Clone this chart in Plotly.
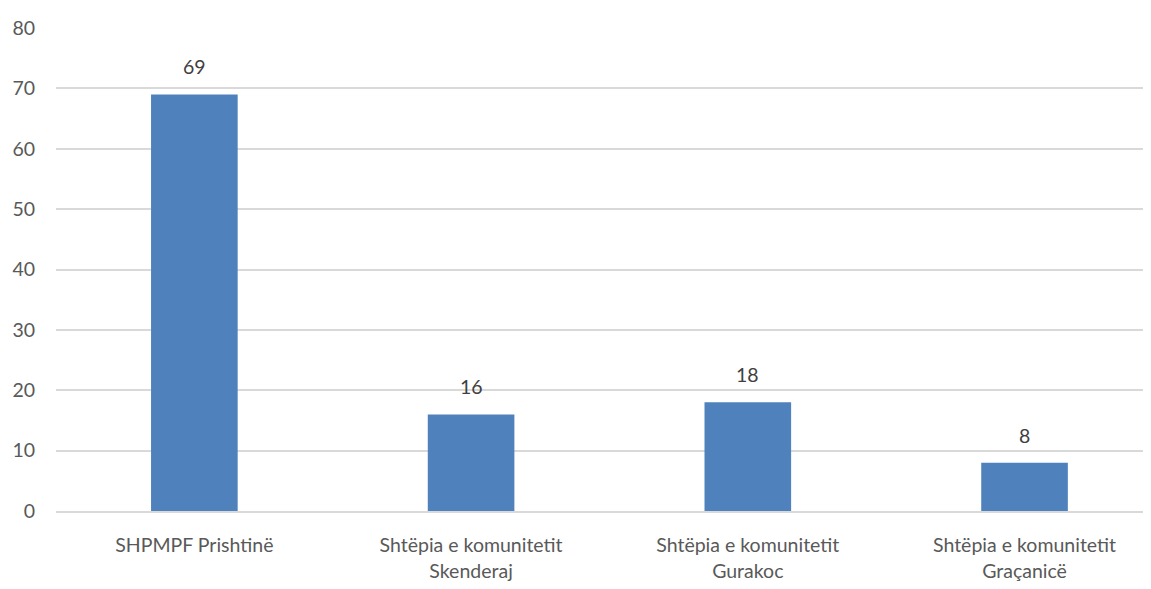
import plotly.graph_objects as go

categories = ["SHPMPF Prishtinë", "Shtëpia e komunitetit<br>Skenderaj",
              "Shtëpia e komunitetit<br>Gurakoc", "Shtëpia e komunitetit<br>Graçanicë"]
values = [69, 16, 18, 8]
y_ticks = [0, 10, 20, 30, 40, 50, 60, 70, 80]

fig = go.Figure(go.Bar(
    x=categories, y=values, marker=dict(color="#4F81BD", line=dict(width=0)),
    hoverinfo="x+y",
))
for c, v in zip(categories, values):
    fig.add_annotation(x=c, y=v, text=str(v), showarrow=False, yanchor="bottom",
                       yshift=14, font=dict(size=19.5, color="#404040"))

# page body has an 8px margin; compensate so the plot area lands where the reference's does
# (the reference image is cropped on the right, so the last category slot runs past the edge)
fig.update_layout(
    width=1151, height=589, margin=dict(l=48, r=8, t=20, b=86),
    paper_bgcolor="white", plot_bgcolor="white", bargap=0.687,
    font=dict(family="Lato, Open Sans, sans-serif", size=19.5, color="#595959"),
    showlegend=False,
)
fig.update_yaxes(range=[0, 80], tickvals=y_ticks, showgrid=True, gridcolor="#D9D9D9",
                 gridwidth=1.5, zeroline=False, ticks="", ticklabelstandoff=20,
                 automargin=False)
fig.update_xaxes(range=[-0.5, 3.457], showline=True, linecolor="#D9D9D9", linewidth=1.5,
                 ticks="", ticklabelstandoff=16, automargin=False)
fig.write_html("out.html")
